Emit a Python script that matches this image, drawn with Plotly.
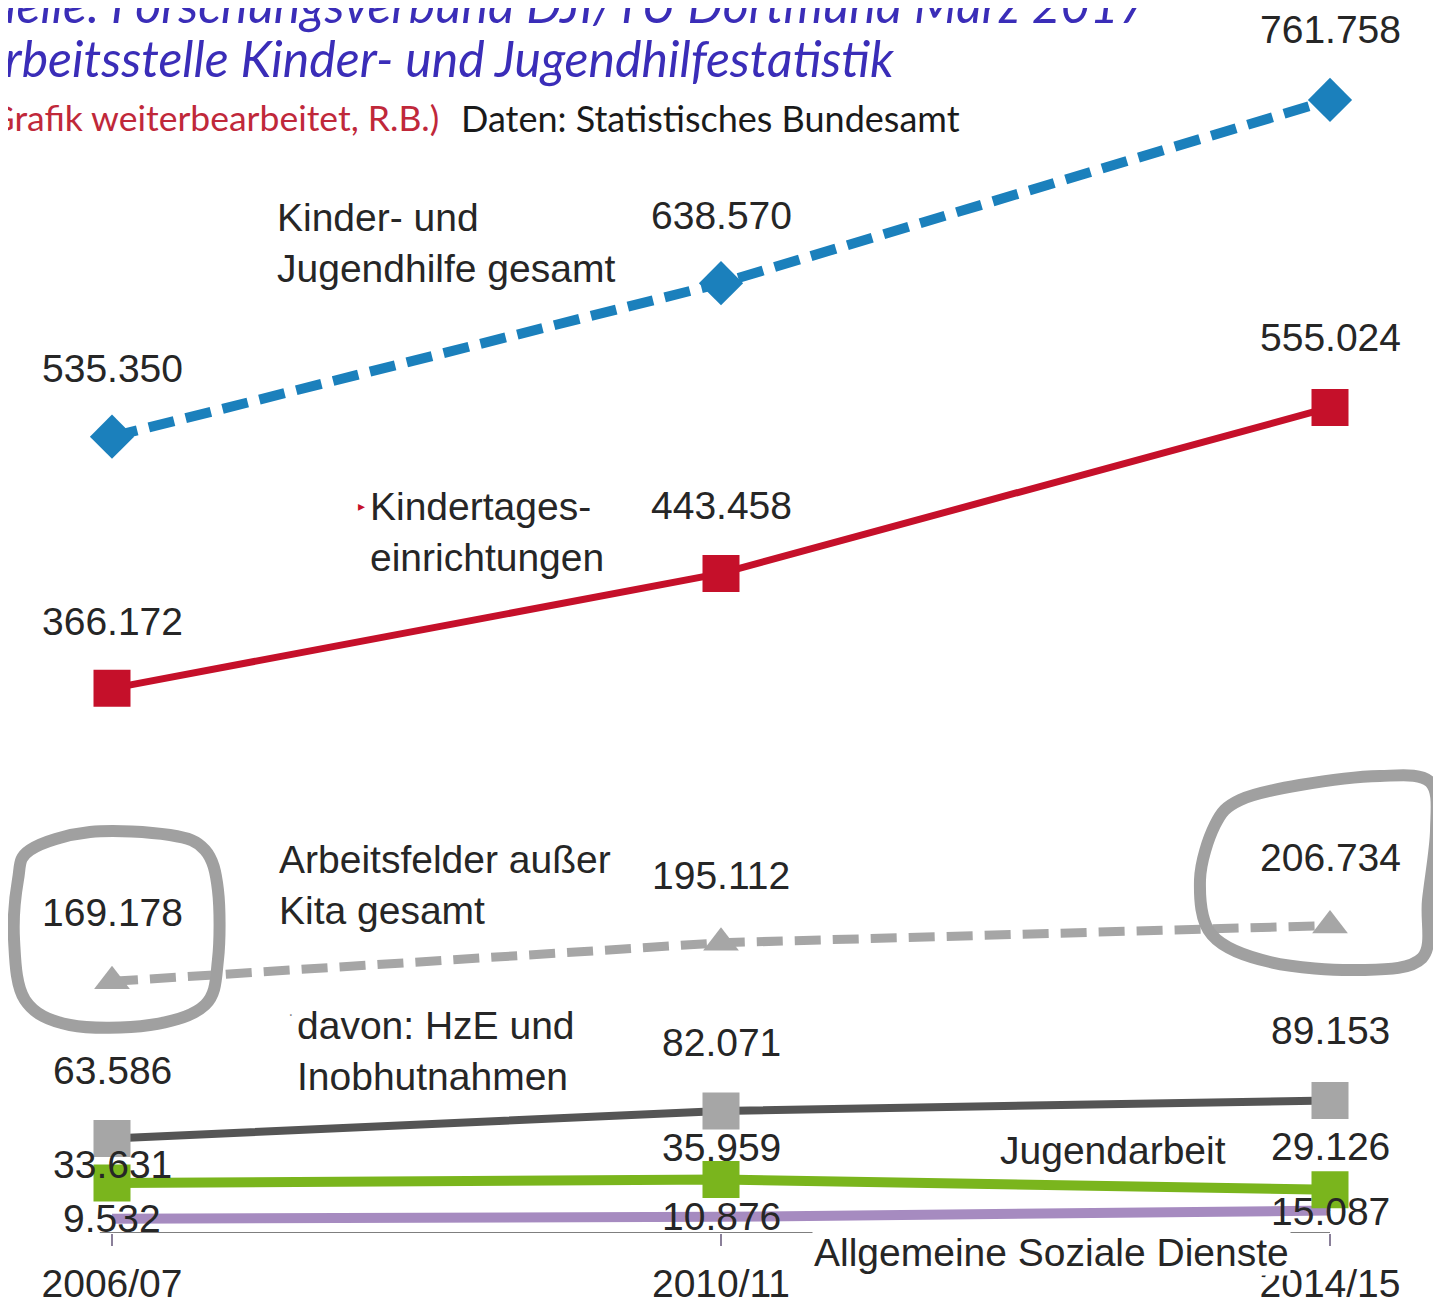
import plotly.graph_objects as go

# Daten (Beschäftigte in der Kinder- und Jugendhilfe)
jahre = ["2006/07", "2010/11", "2014/15"]
kjh_gesamt = [535350, 638570, 761758]
kita = [366172, 443458, 555024]
ausser_kita = [169178, 195112, 206734]
hze = [63586, 82071, 89153]
jugendarbeit = [33631, 35959, 29126]
asd = [9532, 10876, 15087]

W, H = 1441, 1304
OFF = 8                          # Seitenrand des Browsers (body margin)
X0_PX, STEP_PX = 112 - OFF, 609  # Position der ersten Kategorie, Abstand
Y0_PX = 1233 - OFF               # Pixelzeile der Nulllinie
PX_PER_UNIT = 0.0014874          # Pixel pro Beschäftigtem

def px(xp, yp):
    # Referenz-Pixel -> paper-Koordinaten
    return (xp - OFF) / W, (Y0_PX - (yp - OFF)) / Y0_PX

def fmt(v):
    return f"{v:,}".replace(",", ".")

xs = list(range(len(jahre)))
fig = go.Figure()

LABEL_FONT = dict(family="Liberation Sans, Arial", size=39, color="#262626")

# --- Linien ---
reihen = [
    # (werte, linie, marker)
    (asd, dict(color="#A68BC0", width=10), dict(size=1, color="#A68BC0")),
    (jugendarbeit, dict(color="#7AB51D", width=10), dict(symbol="square", size=37, color="#7AB51D")),
    (hze, dict(color="#555555", width=8), dict(symbol="square", size=37, color="#A6A6A6")),
    (ausser_kita, dict(color="#A6A6A6", width=9, dash="26px,12px"), dict(symbol="triangle-up", size=31, color="#A6A6A6")),
    (kita, dict(color="#C5102A", width=7), dict(symbol="square", size=37, color="#C5102A")),
    (kjh_gesamt, dict(color="#1B80BC", width=10, dash="26px,12px"), dict(symbol="diamond", size=34, color="#1B80BC")),
]
for werte, linie, marker in reihen:
    fig.add_trace(go.Scatter(x=xs, y=werte, mode="lines+markers", line=linie,
                             marker=marker, cliponaxis=False, hoverinfo="skip",
                             showlegend=False))

# --- Werte-Beschriftungen ---
abstand = {
    "kjh": [68, 68, 70], "kita": [67, 68, 70], "ausser": [69, 67, 68],
    "hze": [68, 68, 70], "ja": [18, 32, 43], "asd": [0, 0, -1],
}
for werte, key in [(kjh_gesamt, "kjh"), (kita, "kita"), (ausser_kita, "ausser"),
                   (hze, "hze"), (jugendarbeit, "ja"), (asd, "asd")]:
    for i, v in enumerate(werte):
        fig.add_annotation(x=xs[i], y=v, text=fmt(v), showarrow=False,
                           yshift=abstand[key][i], font=LABEL_FONT)

# --- Reihennamen ---
namen = [
    ("Kinder- und<br>Jugendhilfe gesamt", 275, 243, None),
    ("Kindertages-<br>einrichtungen", 368, 532, None),
    ("Arbeitsfelder außer<br>Kita gesamt", 277, 885, None),
    ("davon: HzE und<br>Inobhutnahmen", 295, 1051, None),
    ("Jugendarbeit", 998, 1150, None),
    ("Allgemeine Soziale Dienste", 812, 1252, "white"),
]
for text, xp, yp, bg in namen:
    ax, ay = px(xp, yp)
    fig.add_annotation(xref="paper", yref="paper", x=ax, y=ay, text=text,
                       xanchor="left", yanchor="middle", align="left",
                       showarrow=False, font=LABEL_FONT, bgcolor=bg)

# kleine Markierungen vor den Namen
for sym, col, xp, yp in [("▸", "#C5102A", 356, 505), ("·", "#808080", 287, 1026)]:
    ax, ay = px(xp, yp)
    fig.add_annotation(xref="paper", yref="paper", x=ax, y=ay, text=sym,
                       showarrow=False, font=dict(size=14, color=col))

# --- Quellenangabe (oben abgeschnitten) ---
quelle = [
    ("Quelle: Forschungsverbund DJI/TU Dortmund März 2017", 1150, 4, "#3A2DB8", "italic", 50),
    ("Arbeitsstelle Kinder- und Jugendhilfestatistik", 897, 58, "#3A2DB8", "italic", 50),
    ("Daten: Statistisches Bundesamt", 962, 118, "#1A1A1A", "normal", 36),
    ("(Grafik weiterbearbeitet, R.B.)", 441, 118, "#C0283A", "normal", 35.5),
]
for text, xr, yp, col, stil, size in quelle:
    ax, ay = px(xr, yp)
    fig.add_annotation(xref="paper", yref="paper", x=ax, y=ay, text=text,
                       xanchor="right", yanchor="middle", showarrow=False,
                       font=dict(family="Lato, Carlito, sans-serif", size=size,
                                 color=col, style=stil))

# --- handgezeichnete Kreise um die Arbeitsfelder-Werte ---
kreise = [
    [(30, 850), (90, 832), (170, 835), (205, 850), (218, 890), (218, 960),
     (205, 1005), (150, 1025), (70, 1025), (25, 1000), (14, 940), (18, 880)],
    [(1240, 800), (1300, 785), (1380, 776), (1430, 782), (1436, 830),
     (1428, 900), (1422, 958), (1360, 970), (1270, 962), (1212, 935),
     (1200, 880), (1215, 825)],
]

def glatter_pfad(punkte):
    # geschlossene Catmull-Rom-Kurve als kubische Bezier-Segmente
    p = [px(*q) for q in punkte]
    n = len(p)
    pfad = f"M{p[0][0]:.4f},{p[0][1]:.4f}"
    for i in range(n):
        p0, p1, p2, p3 = p[i - 1], p[i], p[(i + 1) % n], p[(i + 2) % n]
        c1 = (p1[0] + (p2[0] - p0[0]) / 6, p1[1] + (p2[1] - p0[1]) / 6)
        c2 = (p2[0] - (p3[0] - p1[0]) / 6, p2[1] - (p3[1] - p1[1]) / 6)
        pfad += (f" C{c1[0]:.4f},{c1[1]:.4f} {c2[0]:.4f},{c2[1]:.4f}"
                 f" {p2[0]:.4f},{p2[1]:.4f}")
    return pfad + " Z"

for punkte in kreise:
    fig.add_shape(type="path", path=glatter_pfad(punkte), xref="paper",
                  yref="paper", line=dict(color="#A0A0A0", width=12))

# Achsenlinie
fig.add_shape(type="line", xref="x", yref="y", x0=-0.02, x1=2.0, y0=0, y1=0,
              line=dict(color="#7F7F7F", width=2), layer="below")

fig.update_layout(
    width=W, height=H,
    margin=dict(l=0, r=0, t=0, b=H - Y0_PX, autoexpand=False),
    paper_bgcolor="white", plot_bgcolor="white",
    xaxis=dict(range=[-X0_PX / STEP_PX, (W - X0_PX) / STEP_PX],
               tickvals=xs, ticktext=jahre, ticks="outside", ticklen=12,
               tickwidth=2, tickcolor="#8A7F99", showgrid=False, zeroline=False,
               showline=False, tickfont=LABEL_FONT, automargin=False,
               ticklabelstandoff=4),
    yaxis=dict(range=[0, Y0_PX / PX_PER_UNIT], visible=False, showgrid=False,
               zeroline=False),
    showlegend=False,
)

fig.write_html("out.html")
